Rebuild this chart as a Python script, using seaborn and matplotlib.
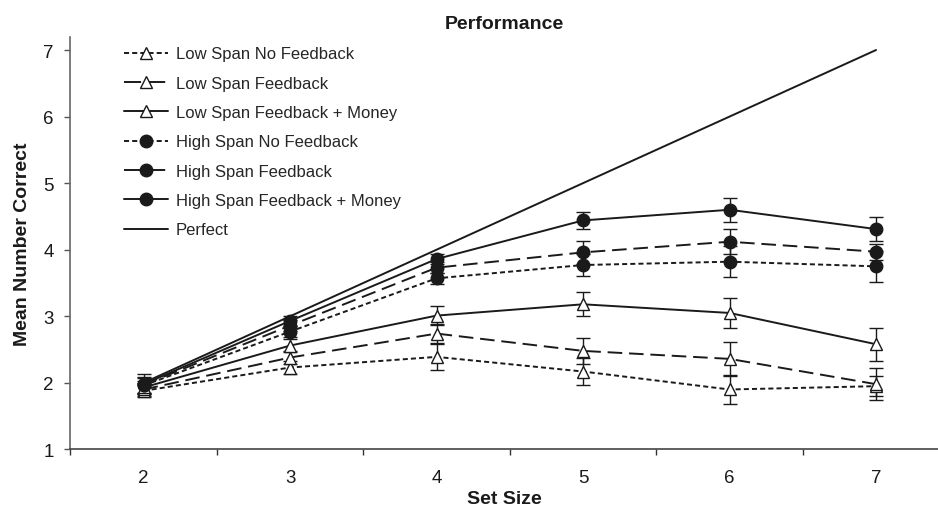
import numpy as np
import pandas as pd
import matplotlib
matplotlib.use("Agg")
import matplotlib.pyplot as plt
import seaborn as sns

# Set size performance: mean number correct per group

set_sizes = [2, 3, 4, 5, 6, 7]

low_no_fb = [1.88, 2.23, 2.39, 2.17, 1.90, 1.95]
low_fb = [1.90, 2.38, 2.74, 2.48, 2.36, 1.98]
low_fb_money = [1.93, 2.56, 3.01, 3.18, 3.05, 2.58]
high_no_fb = [1.96, 2.77, 3.57, 3.77, 3.82, 3.75]
high_fb = [1.97, 2.86, 3.73, 3.96, 4.12, 3.97]
high_fb_money = [1.98, 2.93, 3.86, 4.44, 4.60, 4.31]
perfect = [2, 3, 4, 5, 6, 7]

# error bar half-widths
err_low_no_fb = [0.10, 0.10, 0.19, 0.20, 0.22, 0.15]
err_low_fb = [0.10, 0.10, 0.14, 0.19, 0.25, 0.24]
err_low_fb_money = [0.10, 0.10, 0.14, 0.18, 0.22, 0.25]
err_high_no_fb = [0.12, 0.08, 0.08, 0.16, 0.23, 0.23]
err_high_fb = [0.12, 0.08, 0.08, 0.17, 0.19, 0.12]
err_high_fb_money = [0.15, 0.08, 0.08, 0.13, 0.18, 0.18]

labels = ["Low Span No Feedback", "Low Span Feedback", "Low Span Feedback + Money",
          "High Span No Feedback", "High Span Feedback", "High Span Feedback + Money"]

sns.set_style("white")
plt.rcParams['font.family'] = ['Liberation Sans', 'DejaVu Sans']

short_dash = (0, (2.6, 1.6))
long_dash = (0, (7.5, 3.5))

series = [
    (low_no_fb, err_low_no_fb, short_dash, '^', 'white'),
    (low_fb, err_low_fb, long_dash, '^', 'white'),
    (low_fb_money, err_low_fb_money, '-', '^', 'white'),
    (high_no_fb, err_high_no_fb, short_dash, 'o', '#1a1a1a'),
    (high_fb, err_high_fb, long_dash, 'o', '#1a1a1a'),
    (high_fb_money, err_high_fb_money, '-', 'o', '#1a1a1a'),
]

fig = plt.figure(figsize=(9.38, 5.10), dpi=100)
ax = fig.add_axes([70.3 / 938, 1 - 450.4 / 510, 1 - 70.3 / 938, (450.4 - 37.7) / 510])

for (vals, errs, ls, mk, fc), lab in zip(series, labels):
    ax.errorbar(set_sizes, vals, yerr=errs, fmt='none', ecolor='#1a1a1a',
                elinewidth=1.0, capsize=5, capthick=1.0, zorder=2)
    sns.lineplot(x=set_sizes, y=vals, ax=ax, color='#1a1a1a', linestyle=ls,
                 linewidth=1.4, marker=mk, markersize=9, markerfacecolor=fc,
                 markeredgecolor='#1a1a1a', markeredgewidth=1.0, label=lab, zorder=3)

sns.lineplot(x=set_sizes, y=perfect, ax=ax, color='#1a1a1a', linewidth=1.4,
             label="Perfect", zorder=3)

ax.set_xlim(1.5, 1.5 + (938 - 70.3) / 146.5)
ax.set_ylim(1, 7.2)
ax.set_xticks(set_sizes)
ax.set_xticks([1.5, 2.5, 3.5, 4.5, 5.5, 6.5], minor=True)
ax.set_yticks([1, 2, 3, 4, 5, 6, 7])
ax.tick_params(axis='x', which='major', length=0, pad=14, labelsize=13.5, colors='#1a1a1a')
ax.tick_params(axis='x', which='minor', length=4, width=1, direction='out', color='#333333', bottom=True)
ax.tick_params(axis='y', length=4, width=1, direction='out', pad=8, labelsize=13.5,
               color='#555555', left=True, labelcolor='#1a1a1a')

for s in ['top', 'right']:
    ax.spines[s].set_visible(False)
ax.spines['left'].set_color('#666666')
ax.spines['left'].set_linewidth(1.2)
ax.spines['bottom'].set_color('#444444')
ax.spines['bottom'].set_linewidth(1.2)

ax.set_xlabel("Set Size", fontsize=14, fontweight='bold', labelpad=3, color='#1a1a1a')
ax.set_ylabel("Mean Number Correct", fontsize=14, fontweight='bold', labelpad=9, color='#1a1a1a')
ax.set_title("Performance", fontsize=14, fontweight='bold', color='#1a1a1a', pad=6)

leg = ax.legend(loc='upper left', bbox_to_anchor=(116 / 938, 1 - 39 / 510),
                bbox_transform=fig.transFigure, frameon=False, fontsize=12,
                handlelength=2.6, handletextpad=0.5, labelspacing=0.86, borderpad=0)
# long dashes in the legend: two segments either side of the marker
for i in (1, 4):
    leg.get_lines()[i].set_linestyle((0, (8.8, 3.6)))

fig.savefig("out.png", dpi=100)
